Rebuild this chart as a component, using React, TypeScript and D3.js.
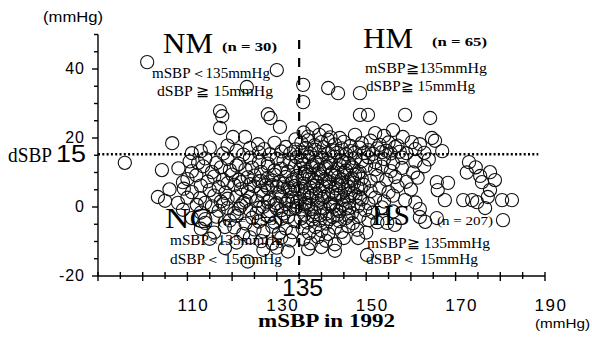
import * as d3 from "d3";
import { useEffect, useRef } from "react";

const WIDTH = 592;
const HEIGHT = 341;

// [mSBP, dSBP], one array per group
const nm: [number, number][] = [
  [101, 42], [130, 39.7], [123.3, 34.8], [117.3, 27.8], [117.8, 26.3], [128, 26.9], [128.6, 25.8], [117.3, 22.9],
  [120.2, 20.3], [122.9, 20.3], [130.7, 23.2], [106.6, 18.5], [125.8, 18.2], [134.2, 19.6],
  [111, 15.6], [113, 16.2], [115, 17.2], [118, 15.5], [119, 17.8], [121, 16.3], [122.5, 15.2], [124, 17.1],
  [126, 15.8], [127.2, 16.8], [128.5, 15.3], [129.5, 18.6], [131, 16.1], [132, 17.4], [133, 15.5], [134.2, 16.7],
];

const hm: [number, number][] = [
  [135.9, 35.4], [141.5, 34.5], [143.7, 33], [148.6, 33], [135.9, 30.4], [148.6, 26.7], [150.4, 26.7], [158.7, 26.7],
  [164.3, 25.8], [144.1, 20], [147.5, 20.9], [158.2, 20.3], [160.2, 18.8], [164.7, 20], [165.4, 19.2], [167, 16.2],
  [135.5, 15.8], [136.5, 17.1], [137.5, 15.4], [138.5, 16.6], [139.5, 15.9], [140.5, 17.3], [141.5, 15.5], [142.5, 16.4],
  [143.5, 15.7], [144.5, 17.0], [145.5, 15.3], [146.5, 16.2], [147.5, 15.8], [148.5, 17.2], [149.5, 15.6], [150.5, 16.5],
  [151.5, 15.4], [152.5, 17.0], [153.5, 15.9], [154.5, 16.3], [155.5, 15.5], [156.5, 17.4], [157.5, 16.0], [159, 15.6],
  [161, 16.8], [163, 15.7],
  [135.5, 18.6], [137, 19.3], [138.5, 17.9], [140, 18.8], [141.5, 19.5], [143, 18.1], [145, 18.9], [146.5, 17.7],
  [149, 18.5], [151, 19.2], [153, 18.0], [155, 18.7], [157, 17.8], [162, 18.2],
  [136, 21.6], [137, 20.4], [138, 22.8], [139.5, 20.9], [141, 22.1], [142, 20.2], [152, 21.4], [154, 20.6], [156, 22.3],
];

const nc: [number, number][] = [
  [96, 12.8], [104.3, 10.7], [103.4, 2.9], [109, 7.2], [109.2, 5.3], [112.4, 12.8], [107.9, 1.2], [112.8, 2.6],
  [112.1, 0.6], [118.4, -5.8], [118.4, -11.9], [123.5, -15.8], [114, -3.5],
  [110.5, 13.2], [114, 14.1], [116.5, 12.8], [119, 13.9], [121.5, 12.5], [124, 14.3], [126, 13.1], [128, 12.6],
  [130, 14.0], [131.5, 13.4], [133, 12.9], [134.5, 14.4],
  [108, 11.2], [111, 10.4], [113.5, 11.8], [115.5, 10.1], [117.5, 11.5], [119.5, 10.7], [121, 12.0], [123, 10.9],
  [124.5, 11.4], [126.5, 10.2], [128, 11.7], [129.5, 10.6], [131, 11.1], [132.5, 10.3], [134, 11.9],
  [110, 8.1], [112, 9.2], [114.5, 7.4], [116, 8.8], [118, 7.9], [120, 9.4], [122, 7.2], [123.5, 8.6],
  [125, 9.1], [126.5, 7.6], [128, 8.4], [129.5, 9.3], [130.5, 7.3], [132, 8.7], [133.5, 7.8], [134.5, 9.0],
  [106, 5.1], [111, 4.3], [113, 6.2], [115, 4.9], [117, 5.8], [118.5, 4.1], [120.5, 6.4], [122, 5.2],
  [123.5, 4.4], [125, 6.0], [126.5, 4.7], [128, 5.5], [129, 6.3], [130.5, 4.2], [131.5, 5.7], [133, 4.6], [134, 6.1],
  [105, 1.8], [110, 2.7], [114, 1.2], [116, 3.3], [117.5, 1.6], [119, 2.4], [121, 3.1], [122.5, 1.3],
  [124, 2.9], [125.5, 1.7], [127, 3.4], [128.5, 2.2], [130, 1.1], [131, 3.0], [132.5, 1.9], [133.5, 2.8], [134.5, 1.4],
  [109, -0.8], [113, -1.6], [115.5, 0.2], [117, -1.1], [119, -0.3], [120.5, -1.8], [122, 0.4], [124, -0.9],
  [125.5, -1.7], [127, 0.1], [128.5, -1.2], [130, -0.4], [131.5, -1.9], [133, -0.6], [134.5, 0.3],
  [111, -3.2], [114, -4.6], [116.5, -2.8], [119.5, -3.9], [121, -2.6], [123, -4.8], [124.5, -3.1], [126, -4.2],
  [128, -2.7], [129.5, -4.5], [131, -3.4], [132.5, -2.9], [134, -4.1],
  [113, -6.3], [116, -7.4], [120.5, -5.9], [122.5, -7.8], [125, -6.5], [127, -7.1], [129, -5.7], [130.5, -7.6],
  [132, -6.2], [133.5, -7.3],
  [115, -9.2], [121, -10.3], [124, -8.8], [126.5, -9.9], [129, -10.6], [131, -8.9], [133, -9.7],
  [127, -12.4], [130, -11.8], [132.5, -12.9],
  [119, 6.9], [121.5, 7.9], [124, 6.6], [126, 7.5], [127.5, 6.3], [129, 7.7], [130, 5.9], [131.5, 6.8],
  [132.5, 5.6], [133.5, 7.2], [134.7, 5.2],
  [118, 0.9], [121.5, -0.5], [123, 1.8], [126, -0.2], [128, 1.5], [129.5, 0.6], [131, -0.9], [132, 0.9],
  [133.5, 1.6], [134.2, -0.4],
];

const hs: [number, number][] = [
  [173, 13], [174.5, 11.5], [172.5, 10], [175.5, 9], [177.7, 10.1], [178.8, 7.8], [168.3, 7], [165.8, 7.2],
  [166, 4.9], [175.9, 7.2], [177.7, 4.9], [173.7, 2], [174.8, 1.4], [177.2, 2.9], [180.4, 2], [182.6, 2],
  [180.6, -3.8], [176.6, -0.3], [171.7, 2], [167.6, 2], [163.2, -4.3], [165.8, -3.2],
  [135.5, 13.4], [137, 14.5], [138.5, 13.1], [140, 14.2], [141.5, 12.9], [143, 14.6], [144.5, 13.5], [146, 12.8],
  [147.5, 14.1], [149, 13.3], [150.5, 14.4], [152, 13.0], [154, 13.9], [156, 12.7], [158, 14.3], [161, 13.2], [164, 13.8],
  [135.3, 11.2], [136.5, 10.3], [138, 12.1], [139.5, 10.8], [141, 11.6], [142.5, 10.1], [144, 12.3], [145.5, 10.6],
  [147, 11.4], [148.5, 10.2], [150, 12.0], [152, 10.9], [153.5, 11.7], [155.5, 10.4], [158, 11.3], [160.5, 10.0], [163, 11.8],
  [135.8, 8.3], [137, 9.4], [138.5, 7.5], [140, 8.8], [141.5, 7.2], [143, 9.1], [144.5, 8.0], [146, 7.4],
  [147.5, 9.3], [149, 8.2], [151, 7.6], [152.5, 9.0], [154.5, 7.9], [156.5, 8.7], [159, 7.3], [161.5, 8.5],
  [135.5, 5.3], [136.8, 4.2], [138.2, 6.1], [139.6, 4.8], [141, 5.9], [142.4, 4.4], [143.8, 6.3], [145.2, 5.0],
  [146.6, 4.1], [148, 5.7], [149.5, 6.4], [151, 4.6], [153, 5.5], [155, 4.3], [157, 6.0], [160, 5.1],
  [135.2, 2.3], [136.5, 1.2], [137.8, 3.2], [139.2, 1.8], [140.6, 2.9], [142, 1.1], [143.4, 3.4], [144.8, 2.0],
  [146.2, 1.4], [147.6, 3.0], [149, 2.2], [150.5, 1.0], [152, 2.7], [154, 1.6], [156, 3.3], [158.7, 2.0], [161, 1.3],
  [135.6, -0.7], [137, 0.4], [138.4, -1.5], [139.8, -0.2], [141.2, -1.9], [142.6, 0.1], [144, -1.2], [145.4, -0.5],
  [146.8, -1.8], [148.2, 0.3], [149.8, -0.9], [151.5, -1.6], [153.5, -0.1], [156, -1.3], [162, -0.6],
  [135.4, -3.3], [136.8, -4.5], [138.2, -2.7], [139.6, -3.9], [141, -4.8], [142.5, -2.9], [144, -4.1], [145.5, -3.2],
  [147, -4.7], [148.5, -2.6], [150.5, -3.8], [152.5, -4.4], [154.7, -4.6], [156.4, -5.2], [162, -2.9],
  [135.8, -6.2], [137.2, -7.5], [138.6, -5.8], [140, -6.9], [141.5, -7.8], [143, -6.0], [144.5, -7.2], [146, -5.6],
  [148, -6.6], [150, -7.4],
  [136, -9.3], [137.6, -10.5], [139.2, -8.7], [141, -9.8], [143, -10.8], [145, -9.0], [148.2, -9.0],
  [137, -12.2], [140, -11.6], [143, -12.7], [150.2, -13.9],
  [136, 12.4], [137.7, 11.5], [139, 12.8], [140.7, 11.2], [142, 12.6], [143.6, 11.0], [145, 12.9], [146.7, 11.8],
  [136.2, 9.6], [137.8, 8.4], [139.3, 9.8], [140.8, 8.1], [142.2, 9.5], [143.7, 8.6], [145.1, 9.9], [146.8, 8.3], [148.2, 9.7],
  [136, 6.8], [137.5, 5.6], [139, 7.1], [140.3, 6.0], [141.8, 7.3], [143.2, 5.4], [144.6, 6.9], [146, 5.8],
  [147.3, 7.0], [148.8, 5.2],
  [136.1, 3.7], [137.3, 2.6], [138.8, 3.9], [140.1, 2.4], [141.5, 3.6], [143, 2.5], [144.3, 3.8], [145.7, 2.8],
  [147.2, 3.9], [148.6, 2.7],
  [136.3, 0.8], [137.7, -0.6], [139, 0.9], [140.5, -0.4], [142, 0.7], [143.3, -0.8], [144.7, 0.6], [146.2, -0.3],
  [136.2, -2.2], [138, -3.6], [139.8, -2.4], [141.8, -3.5], [143.6, -2.3], [146, -2.5],
];

const xTicks = [110, 130, 150, 170, 190];
const yTicks = [40, 20, 0, -20];
const cutX = 135;
const cutY = 15;

const SERIF = "'Liberation Serif', 'DejaVu Serif', serif";
const SANS = "'Liberation Sans', Arial, sans-serif";

export default function App() {
  const ref = useRef<SVGSVGElement>(null);

  useEffect(() => {
    const svg = d3.select(ref.current);
    svg.selectAll("*").remove();

    const x = d3.scaleLinear().domain([90, 190]).range([98, 545]);
    const y = d3.scaleLinear().domain([-20, 50]).range([276, 34.5]);

    svg.append("rect").attr("width", WIDTH).attr("height", HEIGHT).attr("fill", "#fff");

    // 丸
    const all = [...nm, ...hm, ...nc, ...hs];
    svg
      .append("g")
      .selectAll("circle")
      .data(all)
      .join("circle")
      .attr("cx", (d) => x(d[0]))
      .attr("cy", (d) => y(d[1]))
      .attr("r", 6.6)
      .attr("fill", "none")
      .attr("stroke", "#111")
      .attr("stroke-width", 1.1);

    // 区切り線
    svg
      .append("line")
      .attr("x1", x(90))
      .attr("x2", x(188.5))
      .attr("y1", y(cutY) - 1)
      .attr("y2", y(cutY) - 1)
      .attr("stroke", "#000")
      .attr("stroke-width", 2.4)
      .attr("stroke-dasharray", "2,2.3");
    svg
      .append("line")
      .attr("x1", x(cutX))
      .attr("x2", x(cutX))
      .attr("y1", 40)
      .attr("y2", y(-20))
      .attr("stroke", "#000")
      .attr("stroke-width", 2.2)
      .attr("stroke-dasharray", "9,9");

    // 軸
    const axis = svg.append("g").attr("stroke", "#000").attr("stroke-width", 1.4);
    axis.append("line").attr("x1", x(90)).attr("x2", x(90)).attr("y1", y(50)).attr("y2", y(-20));
    axis.append("line").attr("x1", x(90)).attr("x2", x(190)).attr("y1", y(-20)).attr("y2", y(-20));
    d3.range(-20, 51, 5).forEach((v) => {
      axis
        .append("line")
        .attr("x1", x(90) - (v % 20 === 0 ? 6 : 4))
        .attr("x2", x(90))
        .attr("y1", y(v))
        .attr("y2", y(v));
    });
    d3.range(90, 191, 5).forEach((v) => {
      axis
        .append("line")
        .attr("x1", x(v))
        .attr("x2", x(v))
        .attr("y1", y(-20) - 4)
        .attr("y2", y(-20) + (v % 10 === 0 ? 5 : 3));
    });

    svg
      .append("g")
      .selectAll("text")
      .data(yTicks)
      .join("text")
      .attr("x", 85)
      .attr("y", (d) => y(d) + 5)
      .attr("text-anchor", "end")
      .attr("font-family", SANS)
      .attr("font-size", 16)
      .attr("letter-spacing", 1)
      .text((d) => d);

    svg
      .append("g")
      .selectAll("text")
      .data(xTicks)
      .join("text")
      .attr("x", (d) => x(d) + 6)
      .attr("y", 311)
      .attr("text-anchor", "middle")
      .attr("font-family", SANS)
      .attr("font-size", 17)
      .attr("letter-spacing", 1.5)
      .text((d) => d);

    const label = (
      t: string,
      px: number,
      py: number,
      size: number,
      len: number | null,
      family = SERIF,
      weight = "normal"
    ) => {
      const el = svg
        .append("text")
        .attr("x", px)
        .attr("y", py)
        .attr("font-family", family)
        .attr("font-size", size)
        .attr("font-weight", weight)
        .attr("fill", "#000")
        .text(t);
      if (len) el.attr("textLength", len).attr("lengthAdjust", "spacingAndGlyphs");
      return el;
    };

    // 軸タイトル
    label("(mmHg)", 43, 22, 14, 60, SANS);
    label("(mmHg)", 535, 328, 13, 55, SANS);
    label("mSBP  in 1992", 258, 327, 19, 137, SERIF, "bold");
    label("135", 282, 296, 23, 41, SANS);
    label("dSBP", 8, 162, 21, 44, SERIF);
    label("15", 56, 162, 23, 30, SANS);

    // グループ
    label("NM", 163, 53, 30, 50);
    label("(n = 30)", 222, 51, 13, 55, SERIF, "bold");
    label("mSBP＜135mmHg", 152, 78, 14, 118);
    label("dSBP ≧ 15mmHg", 157, 96, 14, 116);

    label("HM", 363, 48, 30, 50);
    label("(n = 65)", 432, 46, 13, 55, SERIF, "bold");
    label("mSBP≧135mmHg", 365, 73, 14, 122);
    label("dSBP≧ 15mmHg", 366, 91, 14, 109);

    label("NC", 165, 228, 30, 47);
    label("(n = 159)", 217, 225, 13, 66);
    label("mSBP<135mmHg", 170, 245, 14, 113);
    label("dSBP＜ 15mmHg", 170, 264, 14, 112);

    label("HS", 372, 225, 30, 38);
    label("(n = 207)", 437, 225, 13, 56);
    label("mSBP≧ 135mmHg", 367, 248, 14, 123);
    label("dSBP＜ 15mmHg", 366, 264, 14, 112);
  }, []);

  return (
    <svg
      ref={ref}
      width={WIDTH}
      height={HEIGHT}
      style={{ position: "absolute", left: 0, top: 0 }}
    />
  );
}
